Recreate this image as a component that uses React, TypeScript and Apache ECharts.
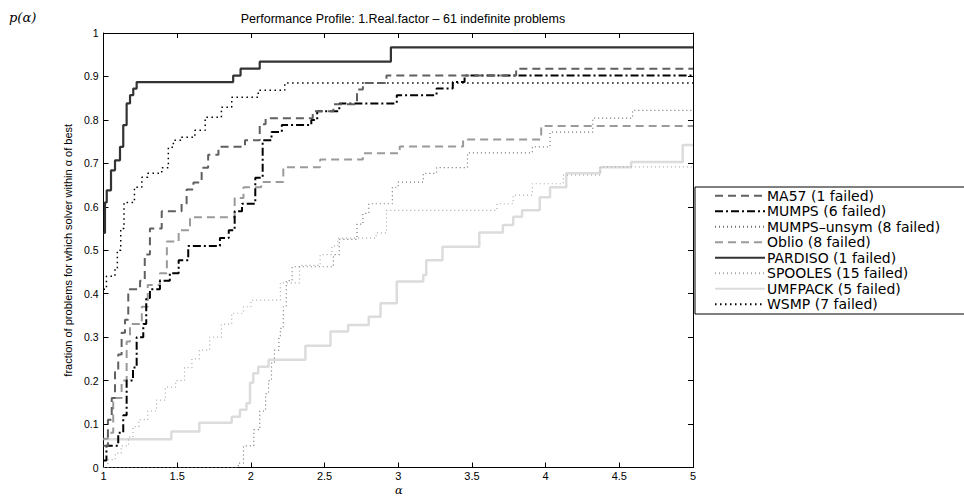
import React, { useEffect, useRef } from "react";
import * as echarts from "echarts";

const solverNames = [
  "MA57 (1 failed)",
  "MUMPS (6 failed)",
  "MUMPS–unsym (8 failed)",
  "Oblio (8 failed)",
  "PARDISO (1 failed)",
  "SPOOLES (15 failed)",
  "UMFPACK (5 failed)",
  "WSMP (7 failed)",
];

const xTicks = [1, 1.5, 2, 2.5, 3, 3.5, 4, 4.5, 5];

const ma57 = [
  [1, 0.05], [1.03, 0.11], [1.056, 0.16], [1.078, 0.22], [1.1, 0.26], [1.123, 0.31], [1.146, 0.34],
  [1.168, 0.41], [1.248, 0.43], [1.28, 0.49], [1.315, 0.55], [1.395, 0.59], [1.53, 0.607], [1.564, 0.64],
  [1.61, 0.656], [1.666, 0.69], [1.71, 0.72], [1.78, 0.738], [1.96, 0.753], [2.06, 0.79], [2.1, 0.804],
  [2.42, 0.82], [2.56, 0.836], [2.72, 0.87], [2.76, 0.885], [2.92, 0.902], [3.8, 0.918], [5, 0.918],
];

const mumps = [
  [1, 0.016], [1.02, 0.05], [1.1, 0.08], [1.134, 0.12], [1.157, 0.2], [1.2, 0.23], [1.225, 0.3],
  [1.27, 0.33], [1.29, 0.39], [1.315, 0.41], [1.383, 0.43], [1.45, 0.447], [1.51, 0.477], [1.575, 0.51],
  [1.79, 0.528], [1.85, 0.546], [1.89, 0.59], [1.94, 0.607], [2.03, 0.667], [2.08, 0.753], [2.14, 0.772],
  [2.21, 0.788], [2.41, 0.8], [2.45, 0.82], [2.6, 0.838], [2.99, 0.857], [3.26, 0.872], [3.37, 0.887],
  [3.45, 0.902], [5, 0.902],
];

const mumpsUnsym = [
  [1, 0], [1.9, 0], [1.915, 0.01], [1.95, 0.05], [2.02, 0.087], [2.06, 0.13], [2.1, 0.17], [2.12, 0.2],
  [2.14, 0.24], [2.16, 0.27], [2.19, 0.3], [2.2, 0.32], [2.22, 0.37], [2.24, 0.43], [2.28, 0.462],
  [2.56, 0.49], [2.6, 0.525], [2.72, 0.56], [2.76, 0.585], [2.8, 0.607], [2.96, 0.645], [3.0, 0.657],
  [3.17, 0.677], [3.26, 0.69], [3.47, 0.724], [3.91, 0.738], [4.03, 0.772], [4.32, 0.804], [4.59, 0.822],
  [5, 0.822],
];

const oblio = [
  [1, 0.066], [1.03, 0.08], [1.066, 0.16], [1.123, 0.2], [1.157, 0.29], [1.18, 0.33], [1.26, 0.37],
  [1.3, 0.42], [1.383, 0.447], [1.43, 0.52], [1.51, 0.546], [1.587, 0.576], [1.89, 0.62], [1.95, 0.645],
  [2.07, 0.657], [2.22, 0.691], [2.47, 0.709], [2.76, 0.723], [3.01, 0.739], [3.44, 0.755], [3.97, 0.786],
  [5, 0.786],
];

const pardiso = [
  [1, 0.54], [1.01, 0.61], [1.022, 0.638], [1.051, 0.684], [1.078, 0.707], [1.112, 0.738], [1.134, 0.788],
  [1.157, 0.838], [1.18, 0.857], [1.202, 0.872], [1.225, 0.887], [1.88, 0.902], [1.93, 0.918],
  [2.06, 0.934], [2.95, 0.967], [5, 0.967],
];

const spooles = [
  [1, 0], [1.03, 0.018], [1.08, 0.033], [1.12, 0.05], [1.17, 0.07], [1.2, 0.094], [1.24, 0.11],
  [1.3, 0.13], [1.36, 0.155], [1.42, 0.185], [1.49, 0.2], [1.55, 0.23], [1.6, 0.25], [1.65, 0.27],
  [1.72, 0.3], [1.8, 0.33], [1.87, 0.355], [1.95, 0.37], [2.0, 0.385], [2.2, 0.425], [2.33, 0.465],
  [2.47, 0.49], [2.55, 0.51], [2.59, 0.528], [2.85, 0.54], [2.92, 0.592], [3.67, 0.607], [3.78, 0.627],
  [3.91, 0.653], [4.12, 0.673], [4.37, 0.692], [5, 0.692],
];

const umfpack = [
  [1, 0.065], [1.46, 0.083], [1.65, 0.103], [1.87, 0.117], [1.926, 0.133], [1.97, 0.148], [1.994, 0.195],
  [2.016, 0.217], [2.05, 0.232], [2.12, 0.248], [2.37, 0.28], [2.54, 0.313], [2.66, 0.328], [2.8, 0.347],
  [2.88, 0.378], [2.99, 0.428], [3.17, 0.443], [3.19, 0.477], [3.3, 0.508], [3.55, 0.541], [3.71, 0.558],
  [3.78, 0.577], [3.84, 0.592], [3.96, 0.622], [4.03, 0.645], [4.14, 0.677], [4.37, 0.691], [4.58, 0.703],
  [4.93, 0.742], [5, 0.742],
];

const wsmp = [
  [1, 0.41], [1.02, 0.44], [1.078, 0.46], [1.094, 0.5], [1.117, 0.55], [1.139, 0.61], [1.21, 0.645],
  [1.26, 0.668], [1.3, 0.677], [1.395, 0.69], [1.44, 0.737], [1.474, 0.753], [1.53, 0.76], [1.62, 0.776],
  [1.69, 0.806], [1.8, 0.829], [1.87, 0.852], [2.05, 0.868], [2.23, 0.885], [5, 0.885],
];

const seriesData = [ma57, mumps, mumpsUnsym, oblio, pardiso, spooles, umfpack, wsmp];

const styles = [
  { color: "#606060", width: 2, type: [8, 5] },
  { color: "#000000", width: 2, type: [8, 3, 2, 3] },
  { color: "#707070", width: 1.2, type: [1, 3] },
  { color: "#9a9a9a", width: 2, type: [8, 5] },
  { color: "#333333", width: 2.2, type: "solid" },
  { color: "#a8a8a8", width: 1.2, type: [1, 3] },
  { color: "#dcdcdc", width: 2.5, type: "solid" },
  { color: "#000000", width: 1.5, type: [1.5, 3.5] },
];

const FONT = "Liberation Sans, Arial, sans-serif";

export default function App() {
  const ref = useRef<HTMLDivElement>(null);
  useEffect(() => {
    if (!ref.current) return;
    const chart = echarts.init(ref.current, null, { renderer: "svg" });
    const axisCommon = {
      axisLine: { show: true, onZero: false, lineStyle: { color: "#000", width: 1 } },
      axisTick: { show: true, inside: true, length: 5, lineStyle: { color: "#000" } },
      splitLine: { show: false },
    };
    chart.setOption({
      animation: false,
      backgroundColor: "#fff",
      title: {
        text: "Performance Profile: 1.Real.factor – 61 indefinite problems",
        left: 398,
        top: 7,
        textAlign: "center",
        textStyle: { fontFamily: FONT, fontSize: 12.5, fontWeight: "normal", color: "#000" },
      },
      grid: { left: 103.5, right: 271, top: 33, bottom: 28.5, containLabel: false },
      legend: {
        orient: "vertical",
        left: 695,
        top: 187,
        itemWidth: 50,
        itemHeight: 14,
        itemGap: 0,
        padding: [1, 30, 2, 19],
        borderColor: "#000",
        borderWidth: 1,
        backgroundColor: "#fff",
        data: solverNames,
        itemStyle: { color: "rgba(0,0,0,0)", borderColor: "rgba(0,0,0,0)", borderWidth: 0 },
        textStyle: {
          fontFamily: "DejaVu Sans, sans-serif", fontSize: 14, lineHeight: 15.5,
          color: "#000", padding: [0, 0, 0, -3],
        },
      },
      xAxis: [
        {
          type: "value", min: 1, max: 5, interval: 0.5, position: "bottom",
          ...axisCommon,
          axisLabel: { show: true, margin: 3, fontFamily: FONT, fontSize: 11, color: "#000" },
        },
        {
          type: "value", min: 1, max: 5, interval: 0.5, position: "top",
          ...axisCommon,
          axisLabel: { show: false },
        },
      ],
      yAxis: [
        {
          type: "value", min: 0, max: 1, interval: 0.1, position: "left",
          ...axisCommon,
          axisLabel: { show: true, margin: 5, fontFamily: FONT, fontSize: 10.5, color: "#000" },
          name: "fraction of problems for which solver within α of best",
          nameLocation: "middle",
          nameGap: 18,
          nameTextStyle: { fontFamily: FONT, fontSize: 11, color: "#000" },
        },
        {
          type: "value", min: 0, max: 1, interval: 0.1, position: "right",
          ...axisCommon,
          axisLabel: { show: false },
        },
      ],
      graphic: [
        {
          type: "text", left: 9, top: 11,
          style: { text: "p(α)", font: "italic 13px 'DejaVu Serif', serif", fill: "#000" },
        },
        {
          type: "text", left: 395, top: 483.5,
          style: { text: "α", font: "italic 11.5px 'DejaVu Serif', serif", fill: "#000" },
        },
      ],
      series: seriesData.map((d, i) => ({
        name: solverNames[i],
        type: "line",
        step: "end",
        data: d,
        symbol: "none",
        showSymbol: false,
        xAxisIndex: 0,
        yAxisIndex: 0,
        lineStyle: { color: styles[i].color, width: styles[i].width, type: styles[i].type },
        itemStyle: { color: styles[i].color },
        z: 10 - i,
      })),
    });
    return () => chart.dispose();
  }, []);
  return <div ref={ref} style={{ width: 964, height: 496, position: "absolute", left: 0, top: 0 }} />;
}
